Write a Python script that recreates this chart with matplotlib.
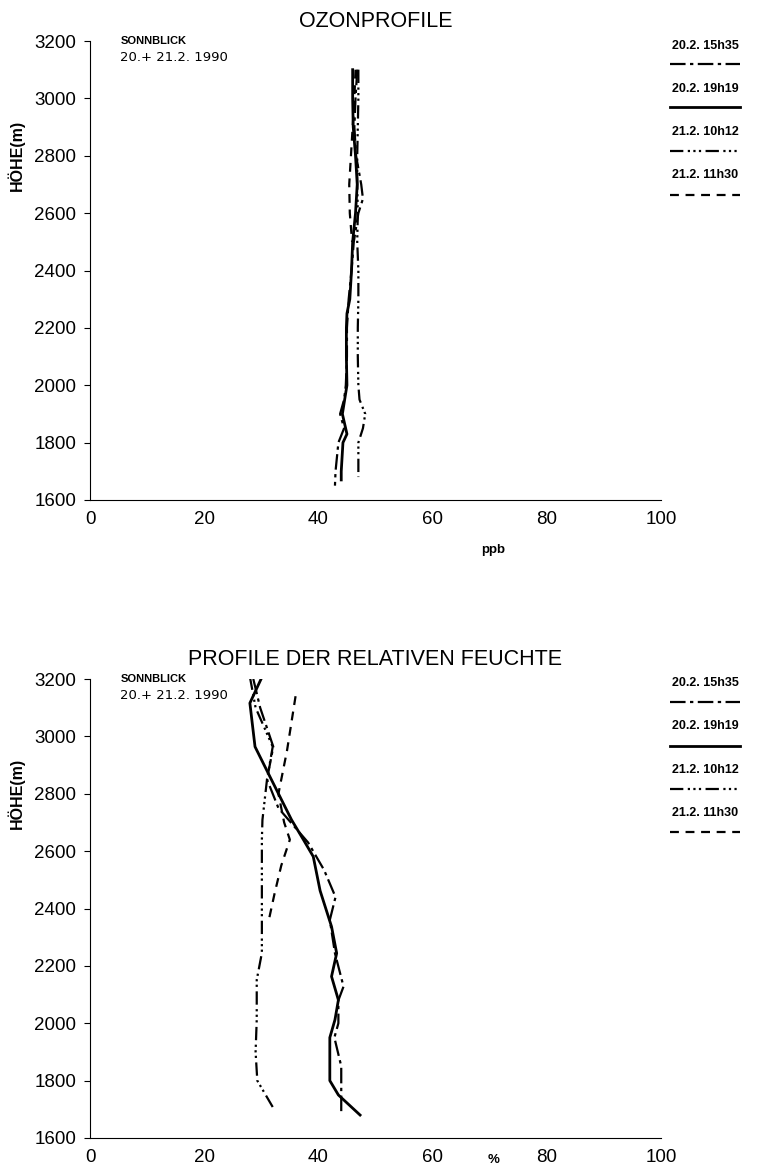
import numpy as np
import matplotlib
matplotlib.use("Agg")
import matplotlib.pyplot as plt
from matplotlib.lines import Line2D

plt.rcParams['font.family'] = ['Liberation Sans', 'DejaVu Sans']

# --- data: ozone (ppb) vs height (m) ---
oz_1535_h = [3100, 3000, 2900, 2800, 2700, 2650, 2600, 2500, 2400, 2300, 2200, 2100, 2000, 1950, 1900, 1850, 1800, 1700, 1650]
oz_1535_v = [46.8, 46.5, 46.3, 46.6, 47.5, 47.8, 47.0, 46.2, 45.8, 45.3, 45.0, 45.0, 44.8, 44.5, 43.8, 44.5, 43.5, 43.0, 42.9]
oz_1919_h = [3100, 3000, 2900, 2800, 2700, 2600, 2500, 2400, 2300, 2250, 2200, 2100, 2000, 1900, 1830, 1800, 1700, 1670]
oz_1919_v = [46.0, 46.0, 46.1, 46.5, 46.8, 46.5, 46.0, 45.8, 45.5, 45.0, 44.9, 44.9, 45.0, 44.2, 45.0, 44.3, 44.0, 44.0]
oz_1012_h = [3100, 3000, 2900, 2800, 2700, 2600, 2500, 2400, 2300, 2200, 2100, 2000, 1950, 1900, 1850, 1800, 1700, 1680]
oz_1012_v = [47.0, 47.0, 46.9, 46.8, 46.8, 46.9, 46.8, 47.0, 47.0, 46.9, 46.9, 47.0, 47.2, 48.2, 47.8, 47.0, 47.0, 47.0]
oz_1130_h = [3100, 3000, 2900, 2800, 2700, 2600, 2500]
oz_1130_v = [46.5, 46.3, 46.0, 45.7, 45.4, 45.5, 45.9]

# --- data: relative humidity (%) vs height (m) ---
rh_1535_h = [3200, 3100, 2964, 2850, 2750, 2630, 2534, 2440, 2360, 2244, 2128, 2080, 2000, 1950, 1850, 1800, 1690]
rh_1535_v = [28.6, 29.8, 32.1, 31.0, 33.0, 38.2, 41.0, 43.0, 42.0, 42.9, 44.4, 43.5, 43.5, 42.8, 44.0, 44.0, 44.0]
rh_1919_h = [3206, 3116, 2964, 2860, 2709, 2639, 2581, 2462, 2337, 2244, 2163, 2081, 2012, 1950, 1900, 1800, 1750, 1680]
rh_1919_v = [30.1, 28.0, 28.9, 31.5, 35.3, 37.4, 39.1, 40.3, 42.3, 43.2, 42.3, 43.5, 42.9, 42.0, 42.0, 42.0, 43.5, 47.3]
rh_1012_h = [3208, 3100, 2964, 2850, 2709, 2640, 2245, 2151, 2012, 1900, 1800, 1708]
rh_1012_v = [28.0, 29.0, 32.0, 31.0, 30.2, 30.1, 30.1, 29.2, 29.2, 29.0, 29.3, 32.0]
rh_1130_h = [3140, 2950, 2800, 2700, 2640, 2550, 2450, 2349]
rh_1130_v = [36.0, 34.5, 33.0, 34.0, 35.0, 33.5, 32.3, 31.2]

labels = ['20.2. 15h35', '20.2. 19h19', '21.2. 10h12', '21.2. 11h30']
styles = [(0, (7, 2, 1.5, 2)), '-', (0, (6, 2, 1, 1.5, 1, 1.5, 1, 2)), (0, (4, 3))]
widths = [1.6, 2.0, 1.6, 1.6]

fig = plt.figure(figsize=(7.57, 11.65), dpi=100)
W, H = 757.0, 1165.0


def setup(ax, title, xlab, xlab_y):
    ax.set_xlim(0, 100)
    ax.set_ylim(1600, 3200)
    ax.set_xticks(np.arange(0, 101, 20))
    ax.set_yticks(np.arange(1600, 3201, 200))
    ax.spines['top'].set_visible(False)
    ax.spines['right'].set_visible(False)
    ax.tick_params(axis='x', length=0, pad=8, labelsize=13.5)
    ax.tick_params(axis='y', direction='out', length=4, pad=6, labelsize=13.5)
    ax.set_title(title, fontsize=15.5, pad=10)
    ax.text(70.6, xlab_y, xlab, ha='center', va='center', fontsize=9.5,
            fontweight='bold', transform=ax.get_xaxis_transform())
    ax.text(-0.13, 0.75, 'HÖHE(m)', rotation=90, ha='center', va='center',
            fontsize=11.5, fontweight='bold', transform=ax.transAxes)
    ax.text(0.053, 1.0, 'SONNBLICK', fontsize=8, fontweight='bold',
            transform=ax.transAxes, va='center')
    ax.text(0.053, 0.963, '20.+ 21.2. 1990', fontsize=9.5, family='DejaVu Sans',
            transform=ax.transAxes, va='center')


ax1 = fig.add_axes([90 / W, 1 - 500 / H, 571 / W, 459 / H])
setup(ax1, 'OZONPROFILE', 'ppb', -0.108)
for hh, vv, ls, lw in zip([oz_1535_h, oz_1919_h, oz_1012_h, oz_1130_h],
                          [oz_1535_v, oz_1919_v, oz_1012_v, oz_1130_v], styles, widths):
    ax1.plot(vv, hh, color='black', linestyle=ls, linewidth=lw)

ax2 = fig.add_axes([90 / W, 1 - 1138 / H, 571 / W, 459 / H])
setup(ax2, 'PROFILE DER RELATIVEN FEUCHTE', '%', -0.047)
for hh, vv, ls, lw in zip([rh_1535_h, rh_1919_h, rh_1012_h, rh_1130_h],
                          [rh_1535_v, rh_1919_v, rh_1012_v, rh_1130_v], styles, widths):
    ax2.plot(vv, hh, color='black', linestyle=ls, linewidth=lw)

# hand-drawn legends on the right
for text_ys, line_ys in [([46, 89, 132, 175], [64, 107, 151, 195]),
                         ([683, 726, 770, 813], [702, 746, 789, 832])]:
    for lab, ls, lw, ty, ly in zip(labels, styles, widths, text_ys, line_ys):
        fig.text(705 / W, 1 - ty / H, lab, ha='center', va='center',
                 fontsize=9, fontweight='bold')
        fig.add_artist(Line2D([670 / W, 740 / W], [1 - ly / H, 1 - ly / H],
                              color='black', linestyle=ls, linewidth=lw,
                              transform=fig.transFigure))

fig.savefig('out.png', dpi=100)
